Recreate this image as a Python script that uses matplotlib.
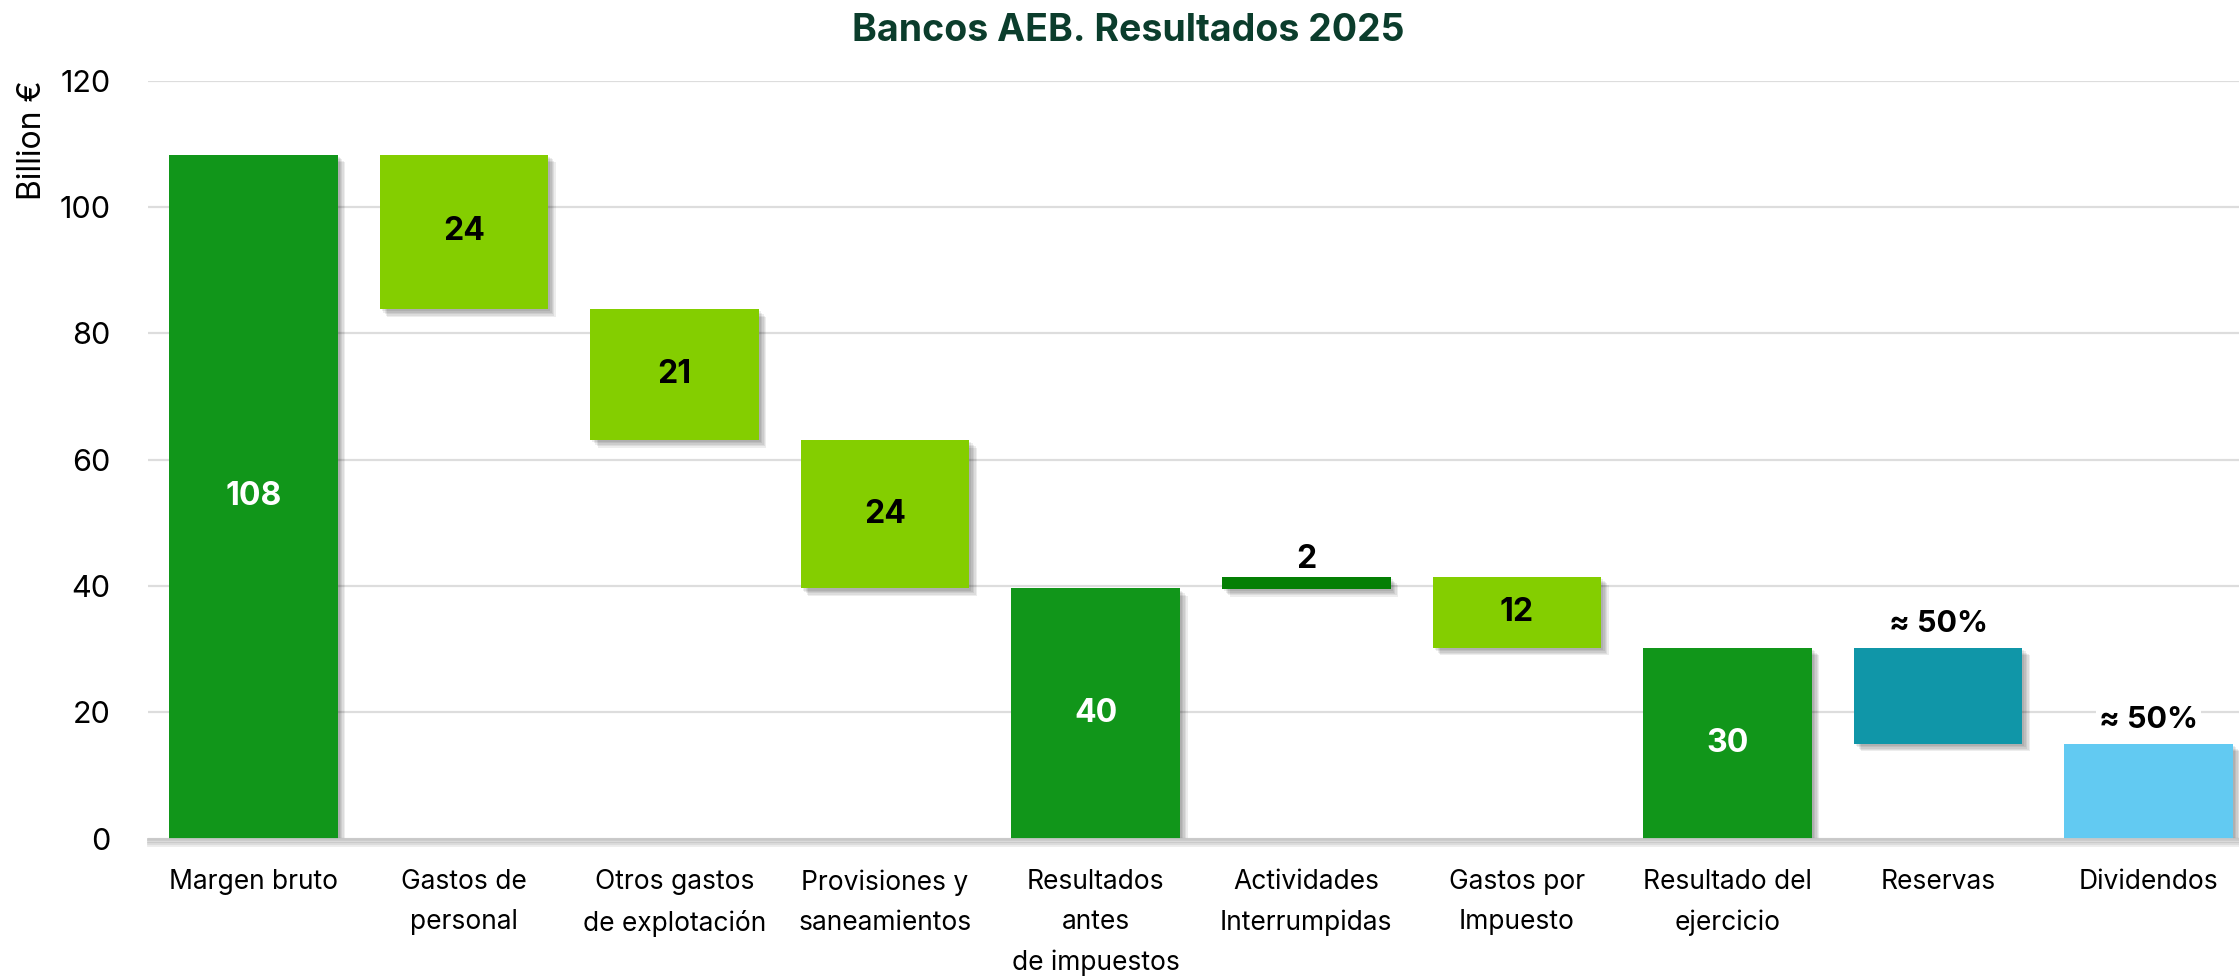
import matplotlib
matplotlib.use("Agg")
import matplotlib.pyplot as plt
import matplotlib.patheffects as pe
import numpy as np

plt.rcParams['font.family'] = ['Inter', 'DejaVu Sans']

categories = ["Margen bruto", "Gastos de\npersonal", "Otros gastos\nde explotación",
              "Provisiones y\nsaneamientos", "Resultados\nantes\nde impuestos",
              "Actividades\nInterrumpidas", "Gastos por\nImpuesto", "Resultado del\nejercicio",
              "Reservas", "Dividendos"]
bar_bottoms = [0, 83.8, 63.1, 39.6, 0, 39.5, 30.2, 0, 15.0, 0]
bar_tops = [108.3, 108.3, 83.8, 63.1, 39.6, 41.4, 41.4, 30.2, 30.2, 15.0]
bar_labels = ["108", "24", "21", "24", "40", "2", "12", "30", "≈ 50%", "≈ 50%"]
yticks = [0, 20, 40, 60, 80, 100, 120]

colors = ["#11961A", "#84CE00", "#84CE00", "#84CE00", "#11961A", "#047F04",
          "#84CE00", "#11961A", "#1096A8", "#62CAF2"]
label_colors = ["white", "black", "black", "black", "white", "black", "black", "white", "black", "black"]
label_pos = ["in", "in", "in", "in", "in", "above", "in", "in", "above", "above"]

W, H = 2239, 977
fig = plt.figure(figsize=(W / 100, H / 100), dpi=100)
ax = fig.add_axes([148 / W, 1 - 838.5 / H, (W - 148) / W, (838.5 - 80.7) / H])

x = np.arange(len(categories))
heights = np.array(bar_tops) - np.array(bar_bottoms)

shadow = [pe.SimplePatchShadow(offset=(o, -o), shadow_rgbFace='black', alpha=0.07) for o in (1.5, 2.5, 3.5, 4.5, 5.5)] + [pe.Normal()]

bars = ax.bar(x, heights, bottom=bar_bottoms, width=0.8, color=colors, zorder=3)
for b in bars:
    b.set_path_effects(shadow)

for i, (bt, tp, lab) in enumerate(zip(bar_bottoms, bar_tops, bar_labels)):
    if label_pos[i] == "in":
        ax.text(i, (bt + tp) / 2, lab, ha='center', va='center', fontsize=23,
                fontweight='bold', color=label_colors[i], zorder=5)
    else:
        fs = 22 if "%" in lab else 23
        off = 1.6 if "%" in lab else 0.3
        ax.text(i, tp + off, lab, ha='center', va='bottom', fontsize=fs,
                fontweight='bold', color=label_colors[i], zorder=5,
                bbox=dict(facecolor='white', edgecolor='none', pad=2) if "%" in lab else None)

ax.set_xlim(-0.5, -0.5 + (W - 148) / 210.6)
ax.set_ylim(0, 120)
ax.set_yticks(yticks)
ax.set_yticklabels([str(v) for v in yticks], fontsize=22)
ax.set_xticks(x)
ax.set_xticklabels(categories, fontsize=19, linespacing=1.7)
ax.tick_params(axis='x', length=0, pad=22)
ax.tick_params(axis='y', length=0, pad=27)

ax.grid(axis='y', color='#DDDDDD', linewidth=1.6, zorder=0)
ax.set_axisbelow(True)
for s in ['top', 'right', 'left']:
    ax.spines[s].set_visible(False)
ax.spines['bottom'].set_color('#C8C8C8')
ax.spines['bottom'].set_linewidth(2)
ax.spines['bottom'].set_zorder(4)
ax.spines['bottom'].set_path_effects([pe.SimpleLineShadow(offset=(0, -o), shadow_color='black', alpha=0.08) for o in (1.5, 2.5, 3.5, 4.5)] + [pe.Normal()])

ax.set_ylabel("Billion €", fontsize=23, loc='top', labelpad=8)

fig.text(0.504, 1 - 31 / H, "Bancos AEB. Resultados 2025", ha='center', va='center',
         fontsize=27, fontweight='bold', color='#0B3D2C')

fig.savefig("out.png", dpi=100)
